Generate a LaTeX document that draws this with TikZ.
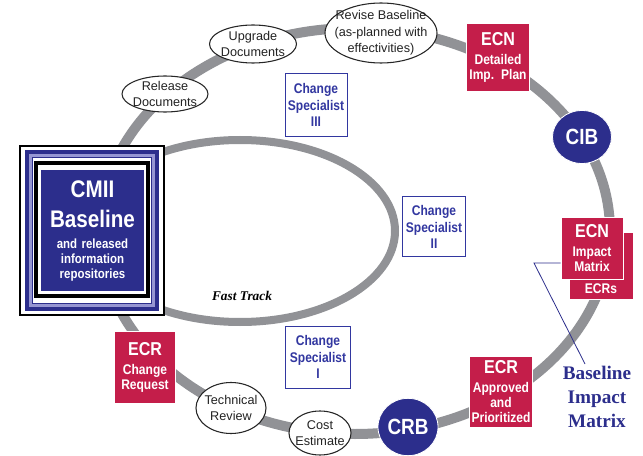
\documentclass[tikz,border=0pt]{standalone}
\usepackage{fontspec}
\setmainfont{Liberation Sans}
\newfontfamily\narrowsf[FakeStretch=0.86]{Liberation Sans}
\newfontfamily\tnr{Liberation Serif}
\usetikzlibrary{shapes.geometric}
\definecolor{ringgray}{RGB}{145,146,150}
\definecolor{cmred}{RGB}{196,30,74}
\definecolor{cmblue}{RGB}{44,46,140}
\definecolor{lav}{RGB}{150,150,210}
\definecolor{csblue}{RGB}{50,55,160}
\definecolor{ovtext}{RGB}{35,35,35}
\newcommand\rhead[1]{{\fontsize{14}{15}\selectfont #1\par}\vspace{3pt}}
\begin{document}
\begin{tikzpicture}[x=0.75pt,y=-0.75pt,
 ring/.style={draw=ringgray, line width=7.5pt},
 inring/.style={draw=ringgray, line width=6pt},
 oval/.style={ellipse, draw=black!85, line width=0.8pt, fill=white, inner sep=0pt},
 ovtxt/.style={inner sep=0pt, align=center, text=ovtext, font=\fontsize{9.5}{12.5}\selectfont},
 redbox/.style={rectangle, draw=white, line width=0.6pt, fill=cmred, text=white, align=center, inner sep=0pt, font=\narrowsf\bfseries\fontsize{10.5}{11.25}\selectfont},
 redlbl/.style={text=white, inner sep=0pt, font=\narrowsf\bfseries\fontsize{10.5}{11.25}\selectfont},
 spec/.style={rectangle, draw=csblue, line width=0.75pt, fill=white, text=csblue, align=center, inner sep=0pt, font=\narrowsf\bfseries\fontsize{10.5}{12.5}\selectfont},
 board/.style={ellipse, fill=cmblue, draw=white, line width=0.6pt, inner sep=0pt},
 boardtxt/.style={text=white, inner sep=0pt, font=\narrowsf\bfseries\fontsize{16.5}{16.5}\selectfont},
]
\useasboundingbox (0,0) rectangle (643,456);

% outer process ring and fast track loop
\draw[ring] (355,231) ellipse [x radius=255, y radius=203];
\draw[inring] (240,231) ellipse [x radius=155, y radius=91];
\node[font=\tnr\bfseries\itshape\fontsize{10}{12}\selectfont, inner sep=0pt] (fast) at (242,296) {Fast Track};

% CMII baseline box
\draw[black, line width=1.8pt, fill=white] (20,146) rectangle (164,315);
\fill[cmblue] (25,150) rectangle (159,311);
\draw[lav, line width=2.2pt] (30.5,155.5) rectangle (153.5,305.5);
\fill[white] (33,158) rectangle (151,303);
\draw[black, line width=2.6pt, fill=white] (36,163) rectangle (148,296);
\fill[cmblue] (41,170) rectangle (144,291);
\node[text width=100pt, align=center, text=white, inner sep=0pt,
      font=\narrowsf\bfseries] (cmii) at (92.5,231)
 {{\fontsize{18}{22.5}\selectfont CMII\\Baseline\par}\vspace{5pt}
  {\fontsize{10}{11.25}\selectfont and released\\information\\repositories\par}};

% oval activities
\node[oval, minimum width=64.5pt, minimum height=27pt, label={[ovtxt]center:Release\\Documents}] (rel) at (165,94) {};
\node[oval, minimum width=65.25pt, minimum height=28.5pt, label={[ovtxt]center:Upgrade\\Documents}] (upg) at (253,44) {};
\node[oval, minimum width=84pt, minimum height=45pt, label={[ovtxt]center:Revise Baseline\\(as-planned with\\effectivities)}] (rev) at (381,33) {};
\node[oval, minimum width=52.5pt, minimum height=38.25pt, label={[ovtxt]center:Technical\\Review}] (tech) at (231,408) {};
\node[oval, minimum width=46.5pt, minimum height=33pt, label={[ovtxt]center:Cost\\Estimate}] (cost) at (320,433) {};

% boards
\node[board, minimum width=45pt, minimum height=43pt, label={[boardtxt]center:CRB}] (crb) at (408,427) {};
\node[board, minimum width=44.25pt, minimum height=39.75pt, label={[boardtxt]center:CIB}] (cib) at (582,137) {};

% red document boxes
\node[redbox, text width=47.25pt, minimum height=51pt] (ecnd) at (498,57) {\rhead{ECN}Detailed\\Imp. Plan};
\node[redbox, text width=48pt, minimum height=50.25pt, label={[redlbl, anchor=south, yshift=4pt]south:ECRs}] (ecrs) at (601,265.5) {};
\node[redbox, text width=46.5pt, minimum height=46.5pt] (ecnm) at (592,248) {\rhead{ECN}Impact\\Matrix};
\node[redbox, text width=47.25pt, minimum height=53.25pt] (ecra) at (501,392) {\rhead{ECR}Approved\\and\\Prioritized};
\node[redbox, text width=45.75pt, minimum height=54pt] (ecrc) at (145,367) {\rhead{ECR}Change\\Request};

% change specialists
\node[spec, text width=46.5pt, minimum height=47.25pt] (cs3) at (316,105) {Change\\Specialist\\III};
\node[spec, text width=47.25pt, minimum height=45pt] (cs2) at (434,227) {Change\\Specialist\\II};
\node[spec, text width=48.75pt, minimum height=46.5pt] (cs1) at (318,357) {Change\\Specialist\\I};

% baseline impact matrix callout
\node[align=center, text=cmblue, inner sep=0pt, font=\tnr\bfseries\fontsize{14.4}{18}\selectfont] (bim) at (597,397) {Baseline\\Impact\\Matrix};
\coordinate (bj) at (534,263);
\coordinate (bend) at (585,364);
\draw[cmblue, line width=0.6pt] (bend) -- (bj) -- (bj -| ecnm.west);
\end{tikzpicture}
\end{document}
